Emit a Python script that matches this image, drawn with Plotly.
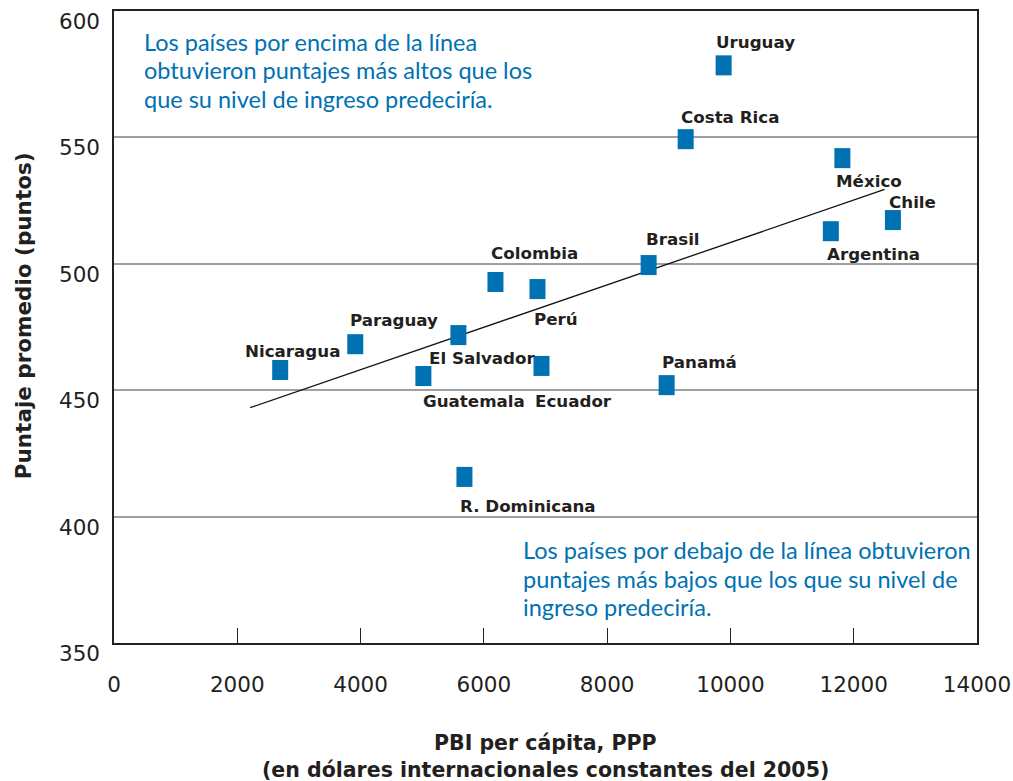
import plotly.graph_objects as go

# ---------------- data ----------------
countries = ["Uruguay", "Costa Rica", "México", "Chile", "Argentina", "Brasil",
             "Colombia", "Perú", "El Salvador", "Paraguay", "Nicaragua",
             "Guatemala", "Ecuador", "R. Dominicana", "Panamá"]
gdp_pc = [9890, 9274, 11816, 12636, 11629, 8673,
          6188, 6870, 5587, 3914, 2696,
          5019, 6935, 5685, 8965]
score = [578.5, 549.3, 541.8, 517.3, 512.9, 499.5,
         492.8, 490.0, 471.8, 468.2, 458.0,
         455.6, 459.6, 415.7, 452.0]
trend_x = [2209, 12501]
trend_y = [443.1, 529.4]
x_tick_vals = [0, 2000, 4000, 6000, 8000, 10000, 12000, 14000]
y_tick_vals = [350, 400, 450, 500, 550, 600]

note_above = ["Los países por encima de la línea",
              "obtuvieron puntajes más altos que los",
              "que su nivel de ingreso predeciría."]
note_below = ["Los países por debajo de la línea obtuvieron",
              "puntajes más bajos que los que su nivel de",
              "ingreso predeciría."]
x_title = ["PBI per cápita, PPP", "(en dólares internacionales constantes del 2005)"]
y_title = "Puntaje promedio (puntos)"

# ---------------- styles / label placement (pixels) ----------------
BLUE = "#0071B2"
DARK = "#231F20"
label_offsets = {
    "Uruguay": (-10, 23), "Costa Rica": (-7, 22), "México": (-8, -23),
    "Chile": (-6, 18), "Argentina": (-6, -23), "Brasil": (-5, 26),
    "Colombia": (-6, 29), "Perú": (-5, -30), "El Salvador": (-31, -23),
    "Paraguay": (-7, 24), "Nicaragua": (-37, 19), "Guatemala": (-2, -25),
    "Ecuador": (-8, -35), "R. Dominicana": (-6, -29), "Panamá": (-7, 23),
}
TICK_FONT = dict(family="DejaVu Sans", size=21.5, color=DARK)
LABEL_FONT = dict(family="DejaVu Sans", size=16.7, color=DARK, weight="bold")
NOTE_FONT = dict(family="Lato", size=23.5, color=BLUE)
XTITLE_FONT = dict(family="DejaVu Sans", size=20.5, color=DARK, weight="bold")
YTITLE_FONT = dict(family="DejaVu Sans", size=21.5, color=DARK, weight="bold")

fig = go.Figure()
fig.add_trace(go.Scatter(x=trend_x, y=trend_y, mode="lines",
                         line=dict(color="#111111", width=1.3),
                         hoverinfo="skip", showlegend=False))
fig.add_trace(go.Scatter(x=gdp_pc, y=score, mode="markers", text=countries,
                         marker=dict(symbol="line-ns", size=14.3,
                                     line=dict(color=BLUE, width=16)),
                         showlegend=False))

for c, xv, yv in zip(countries, gdp_pc, score):
    dx, dy = label_offsets[c]
    fig.add_annotation(x=xv, y=yv, xref="x", yref="y", text=c, showarrow=False,
                       xanchor="left", yanchor="middle", xshift=dx, yshift=dy,
                       font=LABEL_FONT)

# y tick labels (sit slightly below their gridlines in the reference)
for v in y_tick_vals:
    fig.add_annotation(x=0, y=v, xref="paper", yref="y", text=str(v), showarrow=False,
                       xanchor="right", yanchor="middle", xshift=-12, yshift=-10.5,
                       font=TICK_FONT)

for i, line in enumerate(note_above):
    fig.add_annotation(x=0, y=1, xref="paper", yref="paper", text=line, showarrow=False,
                       xanchor="left", yanchor="middle", xshift=28, yshift=-(31 + 28.3 * i),
                       font=NOTE_FONT)
for i, line in enumerate(note_below):
    fig.add_annotation(x=0, y=1, xref="paper", yref="paper", text=line, showarrow=False,
                       xanchor="left", yanchor="middle", xshift=407, yshift=-(539 + 28.5 * i),
                       font=NOTE_FONT)

for i, line in enumerate(x_title):
    fig.add_annotation(x=0.5, y=0, xref="paper", yref="paper", text=line, showarrow=False,
                       xanchor="center", yanchor="middle", yshift=-(100 + 26.5 * i),
                       font=XTITLE_FONT)
fig.add_annotation(x=0, y=0.517, xref="paper", yref="paper", text=y_title, showarrow=False,
                   xanchor="center", yanchor="middle", xshift=-91, textangle=-90,
                   font=YTITLE_FONT)

fig.update_layout(
    width=1013, height=781,
    margin=dict(l=114, r=36, t=11, b=138, autoexpand=False),
    paper_bgcolor="white", plot_bgcolor="white",
    font=dict(family="DejaVu Sans", color=DARK),
    xaxis=dict(range=[0, 14000], tickvals=x_tick_vals, tickformat="d",
               ticks="inside", ticklen=15, tickwidth=1.3, tickcolor="#222",
               showgrid=False, zeroline=False, automargin=False,
               showline=True, linecolor="#222", linewidth=1.5, mirror=True,
               tickfont=TICK_FONT, ticklabelstandoff=21, ticklabeloverflow="allow"),
    yaxis=dict(range=[350, 600], tickvals=y_tick_vals, ticks="", showticklabels=False,
               showgrid=True, gridcolor="#A0A0A0", gridwidth=1.5, zeroline=False,
               automargin=False,
               showline=True, linecolor="#222", linewidth=1.5, mirror=True),
)

fig.write_html("out.html", config={"displayModeBar": False},
               post_script="document.body.style.margin='0';document.body.style.overflow='hidden';")
